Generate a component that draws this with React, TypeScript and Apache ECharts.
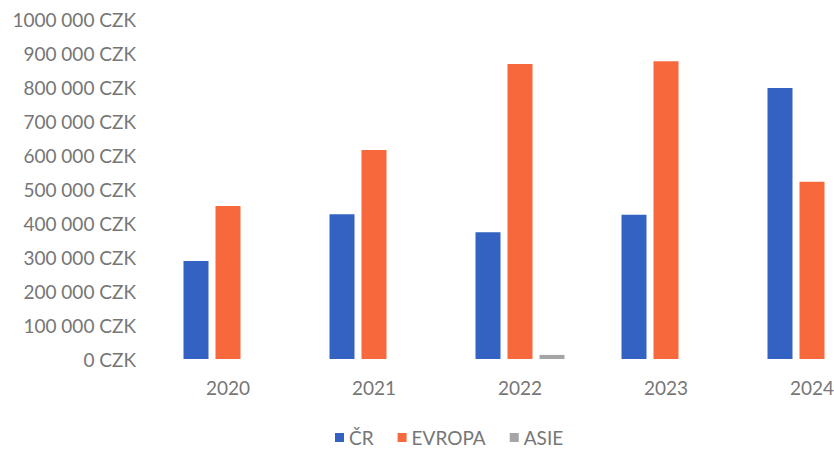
import React, { useEffect, useRef } from "react";
import * as echarts from "echarts";

const categories = ["2020", "2021", "2022", "2023", "2024"];
const seriesNames = ["ČR", "EVROPA", "ASIE"];
const crValues = [288000, 426000, 373000, 424000, 797000];
const evropaValues = [450000, 615000, 868000, 876000, 521000];
const asieValues = [0, 0, 12000, 0, 0];
const colors = ["#3462c2", "#f7693d", "#a5a5a5"];

function fmt(v: number): string {
  if (v === 0) return "0 CZK";
  const th = Math.round(v / 1000);
  return th + " 000 CZK";
}

export default function App() {
  const ref = useRef<HTMLDivElement>(null);
  useEffect(() => {
    if (!ref.current) return;
    const chart = echarts.init(ref.current, undefined, { renderer: "svg" });
    const data = [crValues, evropaValues, asieValues];
    chart.setOption({
      animation: false,
      textStyle: { fontFamily: "Lato" },
      grid: { left: 155, right: 15, top: 19, bottom: 91, containLabel: false },
      legend: {
        top: 428,
        left: 335,
        padding: 0,
        itemWidth: 9,
        itemHeight: 9,
        itemGap: 24,
        icon: "rect",
        textStyle: { color: "#767676", fontSize: 19, lineHeight: 19, fontFamily: "Lato" },
        data: seriesNames,
      },
      xAxis: {
        type: "category",
        data: categories,
        axisLine: { show: false },
        axisTick: { show: false },
        axisLabel: { color: "#767676", fontSize: 19, margin: 19 },
      },
      yAxis: {
        type: "value",
        min: 0,
        max: 1000000,
        interval: 100000,
        splitLine: { show: false },
        axisLine: { show: false },
        axisTick: { show: false },
        axisLabel: { color: "#767676", fontSize: 19, margin: 19, formatter: fmt },
      },
      series: seriesNames.map((name, i) => ({
        name,
        type: "bar",
        data: data[i],
        barWidth: 25,
        barGap: "28%",
        itemStyle: { color: colors[i] },
      })),
    });
    return () => chart.dispose();
  }, []);
  return (
    <div
      ref={ref}
      style={{ position: "absolute", left: 0, top: 0, width: 900, height: 450 }}
    />
  );
}
